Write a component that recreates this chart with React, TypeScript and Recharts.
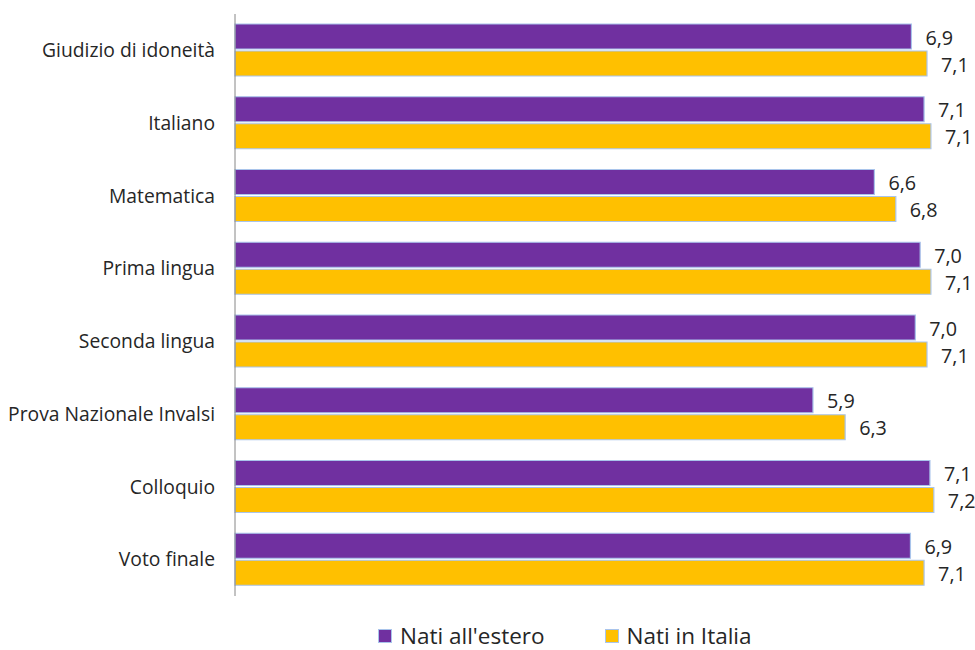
import { BarChart, Bar, XAxis, YAxis, Legend, LabelList } from 'recharts'

const categories = [
  'Giudizio di idoneità',
  'Italiano',
  'Matematica',
  'Prima lingua',
  'Seconda lingua',
  'Prova Nazionale Invalsi',
  'Colloquio',
  'Voto finale',
]
const natiEstero = [6.94, 7.07, 6.56, 7.03, 6.98, 5.93, 7.13, 6.93]
const natiItalia = [7.1, 7.14, 6.78, 7.14, 7.1, 6.26, 7.17, 7.07]

const series = [
  { key: 'estero', name: "Nati all'estero", color: '#7030A0', values: natiEstero },
  { key: 'italia', name: 'Nati in Italia', color: '#FFC000', values: natiItalia },
]

const data = categories.map((c, i) => ({
  categoria: c,
  estero: natiEstero[i],
  italia: natiItalia[i],
}))

const FONT = '"Open Sans", sans-serif'
const TEXT = '#262626'
const BORDER = '#A9C4EB'

const fmt = (v: unknown) => Number(v).toFixed(1).replace('.', ',')

function LegendBox() {
  return (
    <div
      style={{
        height: 54,
        display: 'flex',
        alignItems: 'flex-end',
        paddingLeft: 378,
        paddingBottom: 3,
        boxSizing: 'border-box',
        fontFamily: FONT,
        fontSize: 22.5,
        color: TEXT,
        lineHeight: '22px',
      }}
    >
      {series.map((s, i) => (
        <div key={s.key} style={{ display: 'flex', alignItems: 'center', marginRight: i === 0 ? 60 : 0 }}>
          <span
            style={{
              display: 'inline-block',
              width: 12,
              height: 12,
              background: s.color,
              border: `1px solid ${BORDER}`,
              marginRight: 8,
            }}
          />
          <span>{s.name}</span>
        </div>
      ))}
    </div>
  )
}

export default function App() {
  return (
    <div style={{ position: 'absolute', left: 0, top: 0, width: 975, height: 650, background: '#fff' }}>
      <BarChart
        width={975}
        height={650}
        data={data}
        layout="vertical"
        margin={{ top: 14, right: 9, bottom: 0, left: 0 }}
        barSize={25}
        barGap={2}
      >
        <XAxis type="number" domain={[0, 7.5]} hide />
        <YAxis
          type="category"
          dataKey="categoria"
          width={235}
          tickLine={false}
          tickSize={0}
          tickMargin={20}
          axisLine={{ stroke: '#868686', strokeWidth: 1 }}
          tick={{ fontFamily: FONT, fontSize: 19.3, fill: TEXT }}
          interval={0}
        />
        <Legend verticalAlign="bottom" content={() => <LegendBox />} />
        {series.map((s) => (
          <Bar
            key={s.key}
            dataKey={s.key}
            name={s.name}
            fill={s.color}
            stroke={BORDER}
            strokeWidth={1.2}
            isAnimationActive={false}
          >
            <LabelList
              dataKey={s.key}
              position="right"
              offset={14}
              formatter={fmt}
              style={{ fontFamily: FONT, fontSize: 19.8, fill: TEXT }}
              dy={1}
            />
          </Bar>
        ))}
      </BarChart>
    </div>
  )
}
